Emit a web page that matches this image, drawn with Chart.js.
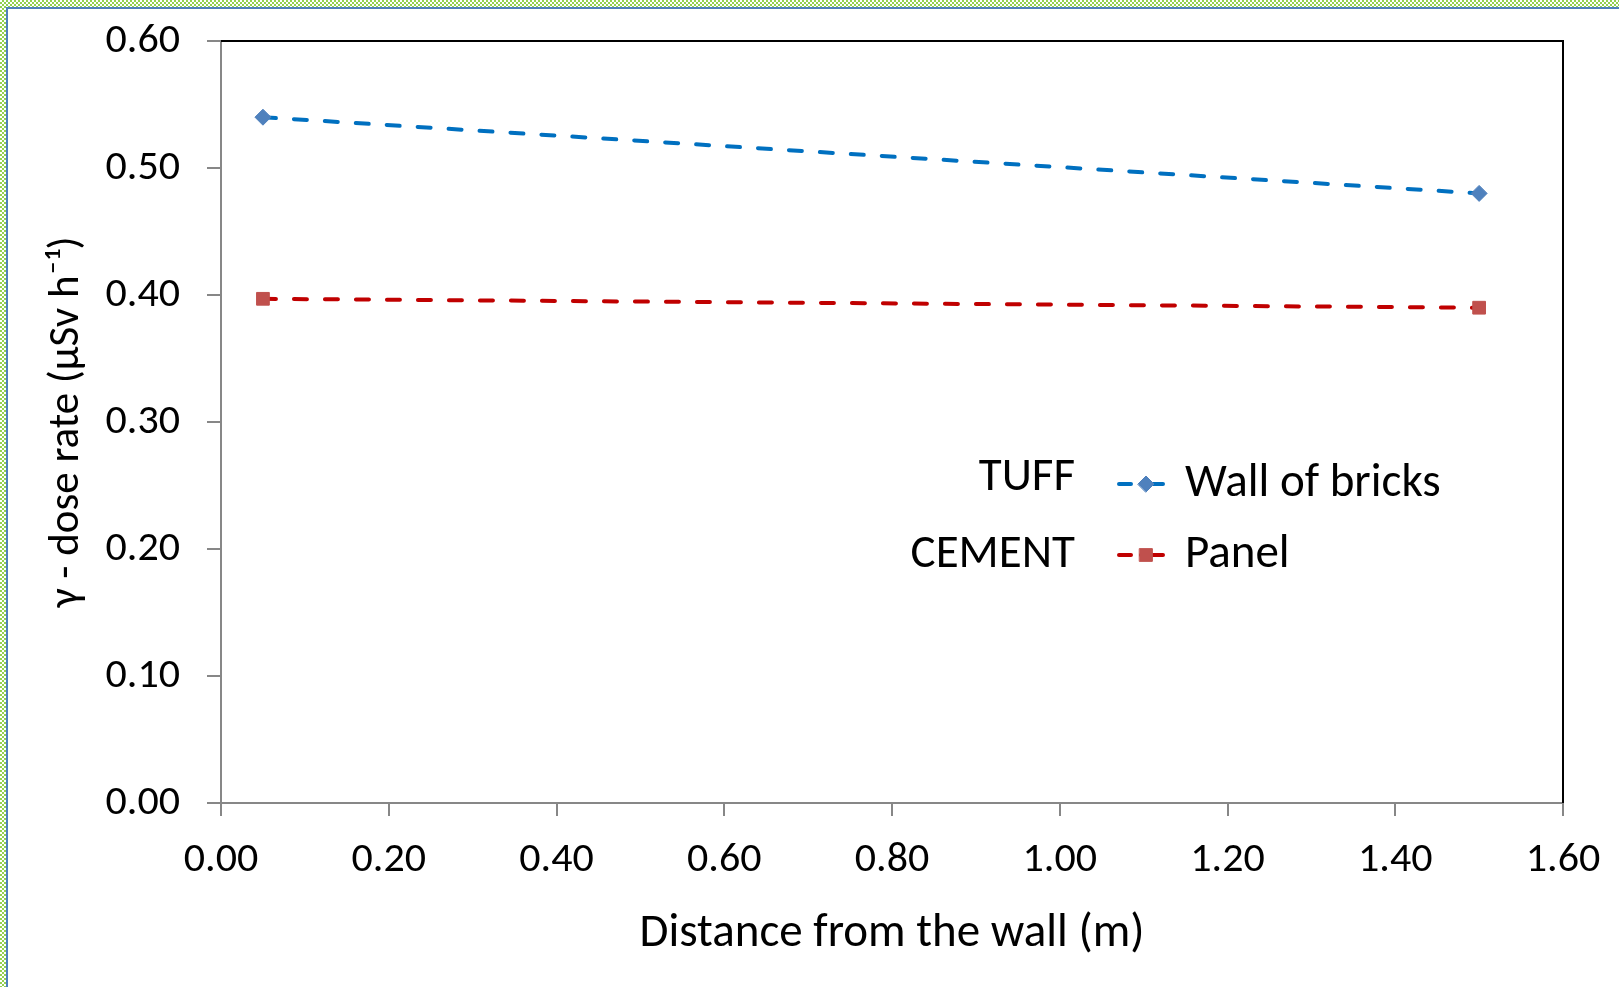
<!DOCTYPE html>
<html>
<head>
<meta charset="utf-8">
<script src="https://cdn.jsdelivr.net/npm/chart.js@4.4.1/dist/chart.umd.min.js"></script>
<style>
  html, body { margin: 0; padding: 0; background: #fff; }
  #frame {
    position: absolute; left: 0; top: 0; width: 1619px; height: 987px;
    background: repeating-conic-gradient(#92D050 0 25%, #ffffff 0 50%) 0 0 / 4px 4px;
  }
  #inner {
    position: absolute; left: 6px; top: 7px; right: -10px; bottom: -10px;
    background: #fff;
    border-top: 2px solid #4F81BD;
    border-left: 2px solid #4F81BD;
  }
  #chart { position: absolute; left: 0; top: 0; }
</style>
</head>
<body>
<div id="frame"><div id="inner"></div></div>
<canvas id="chart" width="1619" height="987"></canvas>
<script>
// distances from the wall (m)
const distances = [0.05, 1.50];
// gamma dose rate (µSv/h)
const tuffBricks = [0.540, 0.480];
const cementPanel = [0.397, 0.390];

const seriesNames = ['Wall of bricks', 'Panel'];
const groupLabels = ['TUFF', 'CEMENT'];

const FONT = 'Carlito, Calibri, "Open Sans", sans-serif';
const AXIS_GREY = '#878787';

const toPoints = (ys) => distances.map((x, i) => ({x: x, y: ys[i]}));

// black top/right frame of the plot area
const plotFrame = {
  id: 'plotFrame',
  afterDatasetsDraw(chart) {
    const {ctx, chartArea: a} = chart;
    ctx.save();
    ctx.strokeStyle = '#000';
    ctx.lineWidth = 2;
    ctx.beginPath();
    ctx.moveTo(a.left, a.top);
    ctx.lineTo(a.right, a.top);
    ctx.lineTo(a.right, a.bottom);
    ctx.stroke();
    ctx.restore();
  }
};

// legend inside the plot with the material labels next to it
const sideLegend = {
  id: 'sideLegend',
  afterDraw(chart, args, opts) {
    const ctx = chart.ctx;
    ctx.save();
    ctx.font = opts.fontSize + 'px ' + FONT;
    ctx.textBaseline = 'middle';
    chart.data.datasets.forEach((ds, i) => {
      const y = opts.rows[i];
      // group label
      ctx.fillStyle = '#000';
      ctx.textAlign = 'right';
      ctx.fillText(groupLabels[i], opts.groupRight, opts.groupRows[i]);
      // line sample
      ctx.strokeStyle = ds.borderColor;
      ctx.lineWidth = ds.borderWidth;
      ctx.lineCap = 'round';
      ctx.setLineDash([]);
      ctx.beginPath();
      ctx.moveTo(opts.lineLeft + 2, y);
      ctx.lineTo(opts.lineLeft + 14, y);
      ctx.moveTo(opts.lineLeft + 24, y);
      ctx.lineTo(opts.lineLeft + 46, y);
      ctx.stroke();
      // marker
      ctx.fillStyle = ds.pointBackgroundColor;
      ctx.strokeStyle = ds.pointBorderColor;
      ctx.lineWidth = 1;
      Chart.helpers.drawPoint(ctx, {pointStyle: ds.pointStyle, radius: ds.pointRadius, borderWidth: 1}, opts.lineLeft + 29, y);
      // series name
      ctx.fillStyle = '#000';
      ctx.textAlign = 'left';
      ctx.fillText(seriesNames[i], opts.textLeft, y);
    });
    ctx.restore();
  }
};

new Chart(document.getElementById('chart'), {
  type: 'line',
  data: {
    datasets: [
      {
        label: seriesNames[0],
        data: toPoints(tuffBricks),
        borderColor: '#0070C0',
        borderWidth: 4,
        borderDash: [13, 18],
        borderCapStyle: 'round',
        pointStyle: 'rectRot',
        pointRadius: 8,
        pointBackgroundColor: '#4F81BD',
        pointBorderColor: '#4F81BD',
        pointBorderWidth: 1
      },
      {
        label: seriesNames[1],
        data: toPoints(cementPanel),
        borderColor: '#C00000',
        borderWidth: 4,
        borderDash: [13, 18],
        borderCapStyle: 'round',
        pointStyle: 'rect',
        pointRadius: 9,
        pointBackgroundColor: '#C0504D',
        pointBorderColor: '#C0504D',
        pointBorderWidth: 1
      }
    ]
  },
  options: {
    responsive: false,
    animation: false,
    devicePixelRatio: 1,
    layout: { padding: { left: 0, top: 41, right: 56, bottom: 0 } },
    plugins: {
      legend: { display: false },
      tooltip: { enabled: false },
      sideLegend: {
        rows: [484, 555], groupRows: [478, 555], fontSize: 47,
        groupRight: 1075, lineLeft: 1117, textLeft: 1185
      }
    },
    scales: {
      x: {
        type: 'linear',
        min: 0, max: 1.6,
        afterFit(scale) { scale.height = 184; scale.paddingLeft = 0; scale.paddingRight = 0; },
        ticks: {
          stepSize: 0.2,
          padding: 19,
          color: '#000',
          font: { family: FONT, size: 42 },
          maxRotation: 0,
          callback: (v) => v.toFixed(2)
        },
        grid: { drawOnChartArea: false, drawTicks: true, tickLength: 13, color: AXIS_GREY, lineWidth: 2 },
        border: { display: true, color: AXIS_GREY, width: 2 },
        title: {
          display: true,
          text: 'Distance from the wall (m)',
          color: '#000',
          font: { family: FONT, size: 47 },
          padding: { top: 0, bottom: 25 }
        }
      },
      y: {
        type: 'linear',
        min: 0, max: 0.6,
        afterFit(scale) { scale.width = 221; scale.paddingTop = 0; scale.paddingBottom = 0; },
        ticks: {
          stepSize: 0.1,
          padding: 27,
          color: '#000',
          font: { family: FONT, size: 42 },
          callback: (v) => v.toFixed(2)
        },
        grid: { drawOnChartArea: false, drawTicks: true, tickLength: 14, color: AXIS_GREY, lineWidth: 2 },
        border: { display: true, color: AXIS_GREY, width: 2 },
        title: {
          display: true,
          text: 'γ - dose rate (µSv h⁻¹)',
          color: '#000',
          font: { family: FONT, size: 43 },
          padding: { top: 41, bottom: 0 }
        }
      }
    }
  },
  plugins: [plotFrame, sideLegend]
});
</script>
</body>
</html>
